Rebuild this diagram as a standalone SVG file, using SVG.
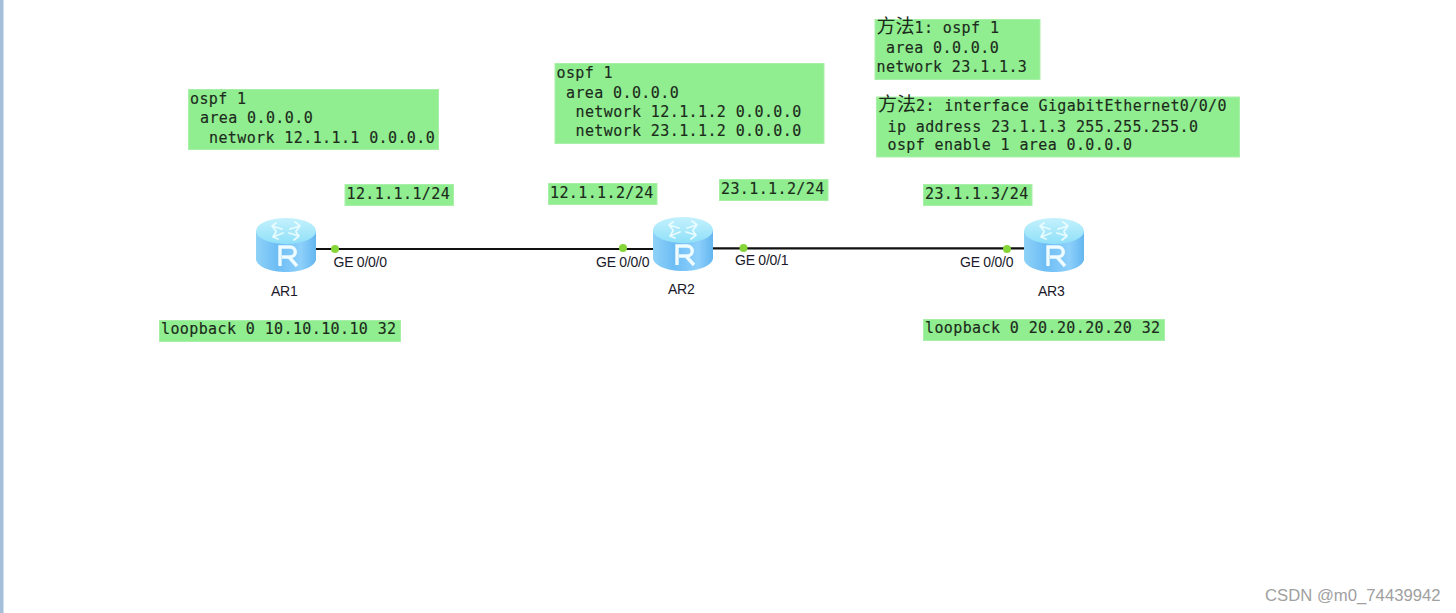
<svg xmlns="http://www.w3.org/2000/svg" width="1456" height="613" viewBox="0 0 1456 613">
<style>
.box{fill:#90ee90;stroke:#a8f0a8;stroke-width:1}
.t{font-family:"DejaVu Sans Mono","Noto Sans CJK SC",monospace;font-size:15px;letter-spacing:.39px;fill:#1c2a1c;stroke:#1c2a1c;stroke-width:.15px;white-space:pre}
.cjk{font-family:"Noto Sans CJK SC",sans-serif;font-size:19px;letter-spacing:0;stroke:none;fill:#1c2a1c}
.l{font-family:"Liberation Sans",Arial,sans-serif;font-size:14px;fill:#1a1a2a;letter-spacing:-.25px}
.link{stroke:#111;stroke-width:2.2;fill:none}
.dot{fill:#86d63a}
</style>
<defs>
<linearGradient id="side" x1="0" x2="1" y1="0" y2="0">
<stop offset="0" stop-color="#8fd2f7"/><stop offset=".35" stop-color="#6dbdf5"/><stop offset=".75" stop-color="#8ed0fb"/><stop offset="1" stop-color="#63b6ef"/>
</linearGradient>
<linearGradient id="top" x1="0" x2="0" y1="0" y2="1">
<stop offset="0" stop-color="#c4f1fd"/><stop offset="1" stop-color="#8fe0f8"/>
</linearGradient>
<g id="router">
<path d="M0 13V41C0 48 13.500 54 30 54S60 48 60 41V13Z" fill="url(#side)"/>
<ellipse cx="30" cy="13" rx="30" ry="13" fill="url(#top)"/>
<g fill="none" stroke="#e8fbff" stroke-width="1.800" stroke-linecap="round" stroke-linejoin="round">
<path d="M16 8 26 11M16 8 20 5M16 8 20 13M44 8 34 11M44 8 39 4M44 8 40 13M17 19 27 15M17 19 22 21M17 19 20 14M43 18 33 15M43 18 38 22M43 18 40 14"/>
</g>
<path d="M24 48V29H34C41 29 41 39 34 39H26M33 39 41 48" fill="none" stroke="#eefbff" stroke-width="3.400"/>
</g>
</defs>
<rect width="1456" height="613" fill="#fff"/>
<rect x="0" y="0" width="3.500" height="613" fill="#a3bfd9"/>
<g id="connectors">
<path class="link" d="M316 249H653"/>
<path class="link" d="M712 248.300H1024"/>
</g>
<g id="AR1">
<use href="#router" x="256" y="218"/>
<circle class="dot" cx="335" cy="249" r="4"/>
<text class="l" x="333.500" y="267">GE 0/0/0</text>
<text class="l" x="271" y="296">AR1</text>
</g>
<g id="AR2">
<use href="#router" x="653" y="217"/>
<circle class="dot" cx="623" cy="248" r="4"/>
<circle class="dot" cx="743.500" cy="248" r="4"/>
<text class="l" x="596" y="267">GE 0/0/0</text>
<text class="l" x="735" y="265">GE 0/0/1</text>
<text class="l" x="668" y="294">AR2</text>
</g>
<g id="AR3">
<use href="#router" x="1024" y="218"/>
<circle class="dot" cx="1007" cy="249" r="4"/>
<text class="l" x="960" y="267">GE 0/0/0</text>
<text class="l" x="1038" y="296">AR3</text>
</g>
<g id="note-ar1-ospf">
<rect class="box" x="188.500" y="89.500" width="250" height="60"/>
<text class="t" x="190" y="104">ospf 1</text>
<text class="t" x="200" y="123">area 0.0.0.0</text>
<text class="t" x="209" y="143">network 12.1.1.1 0.0.0.0</text>
</g>
<g id="note-ar1-ip">
<rect class="box" x="345" y="184.500" width="108.500" height="21"/>
<text class="t" x="346.500" y="199">12.1.1.1/24</text>
</g>
<g id="note-ar1-loopback">
<rect class="box" x="159.500" y="320.500" width="241" height="21"/>
<text class="t" x="161" y="334">loopback 0 10.10.10.10 32</text>
</g>
<g id="note-ar2-ospf">
<rect class="box" x="555" y="63.500" width="269" height="80"/>
<text class="t" x="556.500" y="78">ospf 1</text>
<text class="t" x="566" y="98">area 0.0.0.0</text>
<text class="t" x="575.500" y="117">network 12.1.1.2 0.0.0.0</text>
<text class="t" x="575.500" y="136">network 23.1.1.2 0.0.0.0</text>
</g>
<g id="note-ar2-ip1">
<rect class="box" x="548.500" y="183.500" width="108.500" height="21"/>
<text class="t" x="550" y="198">12.1.1.2/24</text>
</g>
<g id="note-ar2-ip2">
<rect class="box" x="719.500" y="179.500" width="108.500" height="21"/>
<text class="t" x="721" y="194">23.1.1.2/24</text>
</g>
<g id="note-method1">
<rect class="box" x="875" y="19.500" width="165" height="60"/>
<text class="t" x="876.500" y="33"><tspan class="cjk">方法</tspan>1: ospf 1</text>
<text class="t" x="886" y="53">area 0.0.0.0</text>
<text class="t" x="876.500" y="72">network 23.1.1.3</text>
</g>
<g id="note-method2">
<rect class="box" x="876.500" y="97" width="363" height="60"/>
<text class="t" x="878" y="111"><tspan class="cjk">方法</tspan>2: interface GigabitEthernet0/0/0</text>
<text class="t" x="887.500" y="132">ip address 23.1.1.3 255.255.255.0</text>
<text class="t" x="887.500" y="150">ospf enable 1 area 0.0.0.0</text>
</g>
<g id="note-ar3-ip">
<rect class="box" x="923.500" y="184.500" width="108.500" height="21"/>
<text class="t" x="925" y="199">23.1.1.3/24</text>
</g>
<g id="note-ar3-loopback">
<rect class="box" x="923.500" y="319.500" width="241" height="21"/>
<text class="t" x="925" y="333">loopback 0 20.20.20.20 32</text>
</g>
<text x="1265" y="601" font-family="Liberation Sans,Arial,sans-serif" font-size="16.700px" fill="#a0a0a0">CSDN @m0_74439942</text>
</svg>
